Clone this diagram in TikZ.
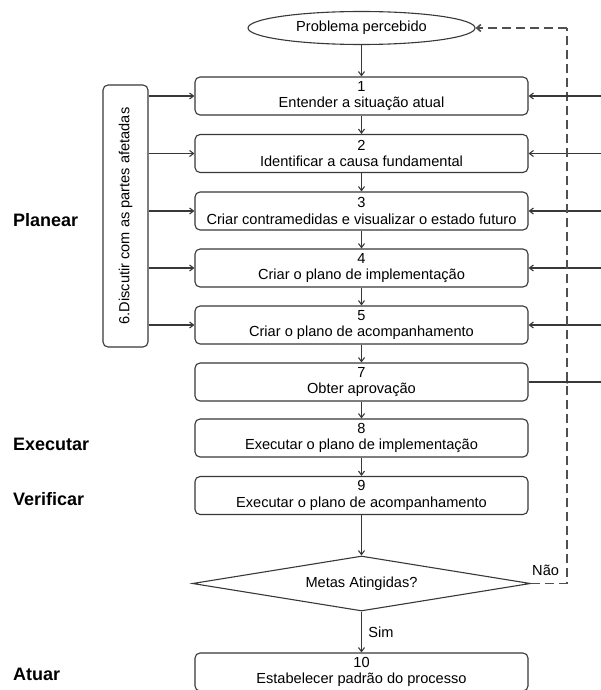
\documentclass[tikz,border=0pt]{standalone}
\usepackage{fontspec}
\setmainfont{Liberation Sans}
\usetikzlibrary{shapes.geometric,arrows.meta}
\definecolor{linegray}{HTML}{383838}
\definecolor{dashgray}{HTML}{505050}
\tikzset{
  every node/.style={font=\fontsize{14.6}{16.5}\selectfont, text=black},
  stepbox/.style={draw=linegray, line width=1.1pt, rounded corners=5pt,
    minimum width=333pt, minimum height=38pt, inner sep=0pt, align=center},
  flow/.style={draw=linegray, line width=1.1pt, -{Straight Barb[length=4pt,width=6pt]}},
  plain/.style={draw=linegray, line width=1.1pt},
  feedback/.style={draw=dashgray, line width=1.7pt, dash pattern=on 9pt off 5pt},
  phase/.style={font=\fontsize{18}{20}\selectfont\bfseries, anchor=base west, inner sep=0pt},
  junction/.style={fill=linegray, circle, inner sep=0pt, minimum size=3.5pt}
}
\begin{document}
\begin{tikzpicture}[x=1pt,y=-1pt]
\useasboundingbox (0,0) rectangle (601,690);
\clip (0,0) rectangle (601,690);

% start of the cycle
\node[draw=linegray, line width=1.1pt, ellipse, minimum width=227pt, minimum height=33pt, inner sep=0pt]
  (start) at (361.5,28) {Problema percebido};

% main steps
\node[stepbox] (b1) at (361.5,96)    {1\\Entender a situação atual};
\node[stepbox] (b2) at (361.5,153.5) {2\\Identificar a causa fundamental};
\node[stepbox] (b3) at (361.5,211)   {3\\Criar contramedidas e visualizar o estado futuro};
\node[stepbox] (b4) at (361.5,268)   {4\\Criar o plano de implementação};
\node[stepbox] (b5) at (361.5,325)   {5\\Criar o plano de acompanhamento};
\node[stepbox] (b7) at (361.5,382)   {7\\Obter aprovação};
\node[stepbox] (b8) at (361.5,438)   {8\\Executar o plano de implementação};
\node[stepbox] (b9) at (361.5,495.5) {9\\Executar o plano de acompanhamento};
\node[draw=linegray, line width=1.1pt, diamond, aspect=6.15, minimum width=338pt, minimum height=55pt, inner sep=0pt]
  (goal) at (361.5,583.5) {Metas Atingidas?};
\node[stepbox] (b10) at (361.5,672)  {10\\Estabelecer padrão do processo};

% side step 6
\node[draw=linegray, line width=1.1pt, rounded corners=5pt, minimum width=45pt, minimum height=262pt,
  inner sep=0pt] (d6) at (125.5,216) {};
\node[rotate=90] (d6text) at (d6.center) {6.Discutir com as partes afetadas};

% phase labels
\node[phase] (pPlan) at (13,226) {Planear};
\node[phase] (pDo)   at (13,450) {Executar};
\node[phase] (pChk)  at (13,505) {Verificar};
\node[phase] (pAct)  at (13,680) {Atuar};

% main flow
\draw[flow] (start) -- (b1);
\draw[flow] (b1) -- (b2);
\draw[flow] (b2) -- (b3);
\draw[flow] (b3) -- (b4);
\draw[flow] (b4) -- (b5);
\draw[flow] (b5) -- (b7);
\draw[flow] (b7) -- (b8);
\draw[flow] (b8) -- (b9);
\draw[flow] (b9) -- (goal.north);
\draw[flow] (goal.south) -- node[right, xshift=3pt] (yes) {Sim} (b10);

% discussion feeds steps 1-5
\foreach \b in {b1,b2,b3,b4,b5}
  \draw[flow] (d6.east |- \b) -- (\b.west);

% inputs from the right edge
\foreach \b/\yy in {b1/96,b2/153.5,b3/211,b4/268,b5/325}{
  \coordinate (e\b) at (601,\yy);
  \draw[flow] (e\b) -- (\b.east);
}
\coordinate (eb7) at (601,382);
\draw[plain] (b7.east) -- (eb7);

% feedback when goals are not met
\coordinate (fb1) at (567,583.5);
\coordinate (fb2) at (567,28);
\draw[feedback] (goal.east) -- (fb1) -- (fb2);
\draw[feedback, -{Straight Barb[length=4pt,width=7pt]}] (fb2) -- (start.east);
\node[anchor=base west, inner sep=0pt] (no) at (532,575) {Não};

% crossings
\node[junction] (j1) at (567,96) {};
\node[junction] (j7) at (567,382) {};
\end{tikzpicture}
\end{document}
